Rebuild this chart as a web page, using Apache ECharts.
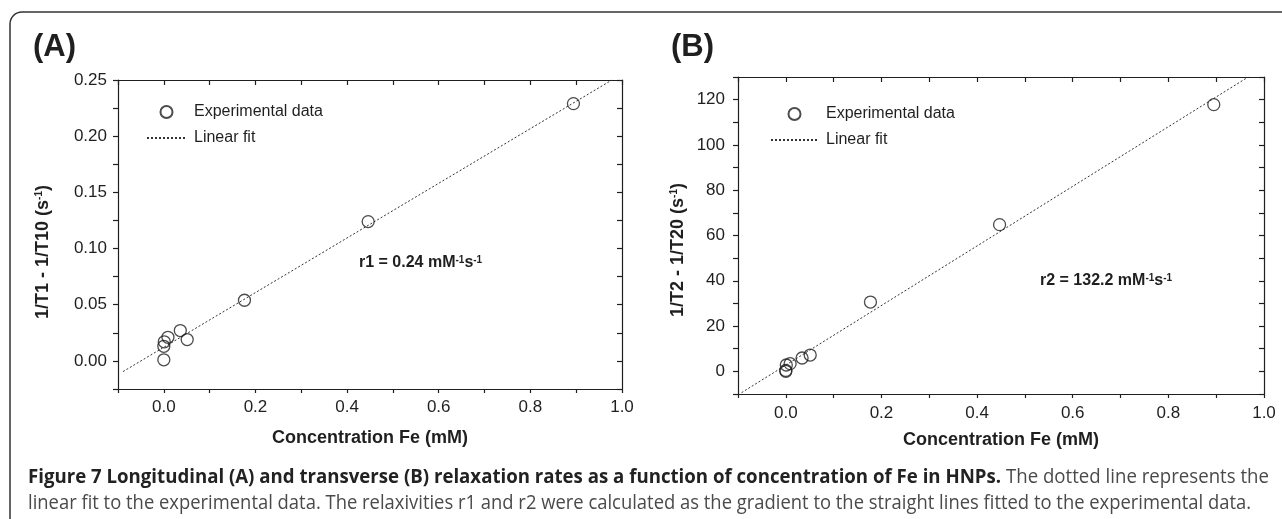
<!DOCTYPE html>
<html lang="en">
<head>
    <meta charset="UTF-8">
    <title>Figure 7 relaxation rates</title>
    <style>
        html, body { margin: 0; padding: 0; background: #fff; }
        #main { width: 1282px; height: 519px; }
    </style>
</head>
<body>
    <div id="main"></div>
    <script src="https://cdn.jsdelivr.net/npm/echarts@6/dist/echarts.min.js"></script>
    <script>
        // concentration of Fe (mM)
        const concA = [0, 0, 0.001, 0.009, 0.036, 0.051, 0.176, 0.446, 0.894];
        const concB = [0, 0, 0.001, 0.009, 0.034, 0.051, 0.177, 0.447, 0.895];
        // 1/T1 - 1/T10 (s-1)
        const rateA = [0.001, 0.013, 0.017, 0.021, 0.027, 0.019, 0.054, 0.124, 0.229];
        // 1/T2 - 1/T20 (s-1)
        const rateB = [0, 0.4, 2.8, 3.4, 5.9, 7.2, 30.6, 64.8, 117.8];
        // linear fit lines, end points
        const fitA = [[-0.089, -0.0095], [0.978, 0.25]];
        const fitB = [[-0.0925, -9.4], [0.967, 130]];

        const legendNames = ['Experimental data', 'Linear fit'];
        const captionBold = 'Figure 7 Longitudinal (A) and transverse (B) relaxation rates as a function of concentration of Fe in HNPs.';
        const captionRest1 = ' The dotted line represents the';
        const captionLine2 = 'linear fit to the experimental data. The relaxivities r1 and r2 were calculated as the gradient to the straight lines fitted to the experimental data.';

        const ARIAL = '"Liberation Sans", Arial, Helvetica, sans-serif';
        const CAP = '"Open Sans", "Noto Sans", sans-serif';
        const INK = '#1f1f1f';

        const zip = (xs, ys) => xs.map((x, i) => [x, ys[i]]);

        // caption is horizontally squeezed in the original; fit each line to its width
        const cv = document.createElement('canvas').getContext('2d');
        function tw(str, font) { cv.font = font; return cv.measureText(str).width; }
        const capBoldFont = '700 20px "Open Sans"';
        const capRegFont = '400 20px "Open Sans"';
        const w1 = tw(captionBold, capBoldFont) + tw(captionRest1, capRegFont);
        const w2 = tw(captionLine2, capRegFont);
        const s1 = 1241 / w1;
        const s2 = 1223 / w2;

        function labX(v) {
            const k = Math.round(v * 10);
            return (k >= 0 && k % 2 === 0) ? (k / 10).toFixed(1) : '';
        }
        function labYA(v) {
            const k = Math.round(v * 40);
            return (k >= 0 && k % 2 === 0) ? (k / 40).toFixed(2) : '';
        }
        function labYB(v) {
            const k = Math.round(v / 10);
            return (k >= 0 && k % 2 === 0) ? String(k * 10) : '';
        }

        const lineCol = { color: INK, width: 1.2 };

        function xAxes(grid, margin) {
            return [
                {
                    gridIndex: grid, type: 'value', min: -0.1, max: 1.0, interval: 0.1, position: 'bottom',
                    axisLine: { onZero: false, lineStyle: lineCol },
                    axisTick: { inside: false, length: 4, lineStyle: lineCol },
                    axisLabel: { formatter: labX, margin: margin, fontSize: 17, fontFamily: ARIAL, color: INK },
                    splitLine: { show: false }
                },
                {
                    gridIndex: grid, type: 'value', min: -0.1, max: 1.0, interval: 0.1, position: 'top',
                    axisLine: { onZero: false, lineStyle: lineCol },
                    axisTick: { inside: true, length: 5, lineStyle: lineCol },
                    axisLabel: { show: false },
                    splitLine: { show: false }
                }
            ];
        }
        function yAxes(grid, min, max, step, fmt, margin) {
            return [
                {
                    gridIndex: grid, type: 'value', min: min, max: max, interval: step, position: 'left',
                    axisLine: { onZero: false, lineStyle: lineCol },
                    axisTick: { inside: false, length: 5, lineStyle: lineCol },
                    axisLabel: { formatter: fmt, margin: margin, fontSize: 17, fontFamily: ARIAL, color: INK },
                    splitLine: { show: false }
                },
                {
                    gridIndex: grid, type: 'value', min: min, max: max, interval: step, position: 'right',
                    axisLine: { onZero: false, lineStyle: lineCol },
                    axisTick: { inside: true, length: 5, lineStyle: lineCol },
                    axisLabel: { show: false },
                    splitLine: { show: false }
                }
            ];
        }

        const dot = {
            type: 'scatter', name: legendNames[0], symbol: 'circle', symbolSize: 12, z: 3,
            itemStyle: { color: 'rgba(255,255,255,0)', borderColor: INK, borderWidth: 1.3 }
        };
        const fit = {
            type: 'line', name: legendNames[1], symbol: 'none', z: 2,
            itemStyle: { color: 'rgba(0,0,0,0)' },
            lineStyle: { type: [2, 2], width: 1, color: '#333' }
        };

        function legend(left, top, w) {
            return {
                orient: 'vertical', left: left, top: top, itemWidth: w, itemHeight: 12, itemGap: 10,
                selectedMode: false, data: legendNames,
                textStyle: { fontSize: 16, fontFamily: ARIAL, color: INK, padding: [0, 0, 0, 3] }
            };
        }

        const supRich = {
            sup: { fontSize: 10, fontWeight: 'bold', fontFamily: ARIAL, fill: INK, verticalAlign: 'top', padding: [0, 0, 6, 0] }
        };

        function richText(x, y, text, size, rot) {
            return {
                type: 'text', x: x, y: y, rotation: rot || 0,
                style: {
                    text: text, fontSize: size, fontWeight: 'bold', fontFamily: ARIAL, fill: INK,
                    align: 'center', verticalAlign: 'middle', rich: supRich
                }
            };
        }

        const chart = echarts.init(document.getElementById('main'));
        chart.setOption({
            animation: false,
            grid: [
                { left: 118, top: 80, width: 504, height: 309 },
                { left: 738, top: 77, width: 526, height: 317 }
            ],
            xAxis: xAxes(0, 10).concat(xAxes(1, 11)),
            yAxis: yAxes(0, -0.025, 0.25, 0.025, labYA, 11).concat(yAxes(1, -10, 130, 10, labYB, 13)),
            legend: [legend(141, 99, 39), legend(765, 101, 47)],
            series: [
                Object.assign({}, dot, { xAxisIndex: 0, yAxisIndex: 0, data: zip(concA, rateA) }),
                Object.assign({}, fit, { xAxisIndex: 0, yAxisIndex: 0, data: fitA }),
                Object.assign({}, dot, { xAxisIndex: 2, yAxisIndex: 2, data: zip(concB, rateB) }),
                Object.assign({}, fit, { xAxisIndex: 2, yAxisIndex: 2, data: fitB })
            ],
            graphic: [
                {
                    type: 'rect', silent: true,
                    shape: { x: 10, y: 12, width: 1400, height: 600, r: 12 },
                    style: { fill: 'none', stroke: '#333', lineWidth: 1.5 }
                },
                { type: 'text', x: 33, y: 47, style: { text: '(A)', fontSize: 31, fontWeight: 'bold', fontFamily: ARIAL, fill: INK, verticalAlign: 'middle' } },
                { type: 'text', x: 671, y: 47, style: { text: '(B)', fontSize: 31, fontWeight: 'bold', fontFamily: ARIAL, fill: INK, verticalAlign: 'middle' } },
                richText(43, 252, '1/T1 - 1/T10 (s{sup|-1})', 18, Math.PI / 2),
                richText(678, 250, '1/T2 - 1/T20 (s{sup|-1})', 18, Math.PI / 2),
                richText(370, 438, 'Concentration Fe (mM)', 18),
                richText(1001, 440, 'Concentration Fe (mM)', 18),
                {
                    type: 'text', x: 359, y: 263,
                    style: { text: 'r1 = 0.24 mM{sup|-1}s{sup|-1}', fontSize: 16, fontWeight: 'bold', fontFamily: ARIAL, fill: INK, verticalAlign: 'middle', rich: supRich }
                },
                {
                    type: 'text', x: 1040, y: 281,
                    style: { text: 'r2 = 132.2 mM{sup|-1}s{sup|-1}', fontSize: 16, fontWeight: 'bold', fontFamily: ARIAL, fill: INK, verticalAlign: 'middle', rich: supRich }
                },
                {
                    type: 'text', x: 28, y: 477, scaleX: s1,
                    style: {
                        text: '{b|' + captionBold + '}{r|' + captionRest1 + '}',
                        verticalAlign: 'middle',
                        rich: {
                            b: { fontSize: 20, fontWeight: 'bold', fontFamily: CAP, fill: '#222' },
                            r: { fontSize: 20, fontFamily: CAP, fill: '#4a4a4a' }
                        }
                    }
                },
                {
                    type: 'text', x: 28, y: 503, scaleX: s2,
                    style: { text: captionLine2, fontSize: 20, fontFamily: CAP, fill: '#4a4a4a', verticalAlign: 'middle' }
                }
            ]
        });
    </script>
</body>
</html>
